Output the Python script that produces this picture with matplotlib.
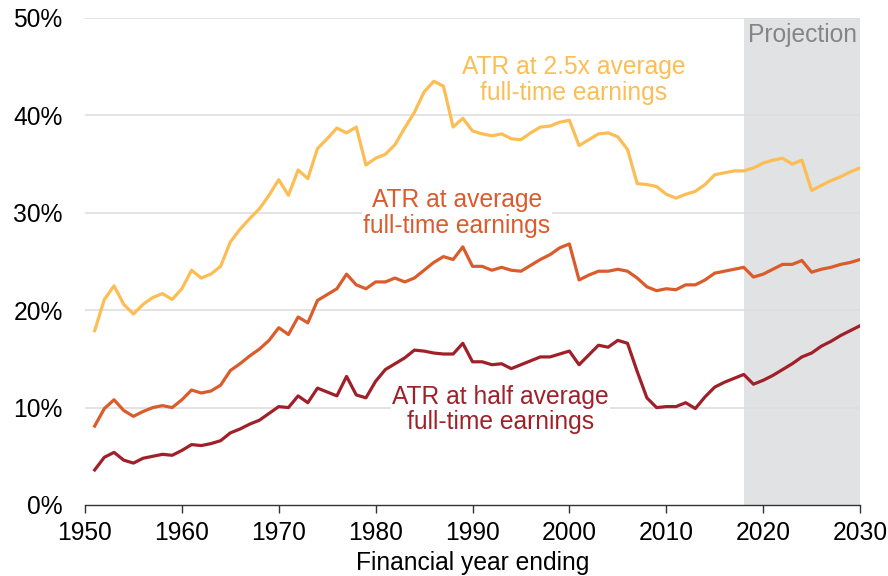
import matplotlib.pyplot as plt
import numpy as np

plt.rcParams['font.family'] = ['Liberation Sans', 'DejaVu Sans']

#%% data
years = np.arange(1951, 2031)

atr_25x = [17.9, 21.1, 22.5, 20.6, 19.6, 20.6, 21.3, 21.7, 21.1, 22.2,
           24.1, 23.3, 23.7, 24.5, 27.0, 28.3, 29.4, 30.4, 31.8, 33.4,
           31.8, 34.4, 33.5, 36.6, 37.6, 38.7, 38.2, 38.8, 34.9, 35.6,
           36.0, 37.0, 38.7, 40.3, 42.4, 43.5, 43.0, 38.8, 39.7, 38.4,
           38.1, 37.9, 38.1, 37.6, 37.5, 38.2, 38.8, 38.9, 39.3, 39.5,
           36.9, 37.5, 38.1, 38.2, 37.8, 36.5, 33.0, 32.9, 32.7, 31.9,
           31.5, 31.9, 32.2, 32.9, 33.9, 34.1, 34.3, 34.3, 34.6, 35.1,
           35.4, 35.6, 35.0, 35.4, 32.3, 32.8, 33.3, 33.7, 34.2, 34.6]

atr_avg = [8.1, 9.9, 10.8, 9.7, 9.1, 9.6, 10.0, 10.2, 10.0, 10.8,
           11.8, 11.5, 11.7, 12.3, 13.8, 14.5, 15.3, 16.0, 16.9, 18.2,
           17.5, 19.3, 18.7, 21.0, 21.6, 22.2, 23.7, 22.6, 22.2, 22.9,
           22.9, 23.3, 22.9, 23.3, 24.1, 24.9, 25.5, 25.2, 26.5, 24.5,
           24.5, 24.1, 24.4, 24.1, 24.0, 24.6, 25.2, 25.7, 26.4, 26.8,
           23.1, 23.6, 24.0, 24.0, 24.2, 24.0, 23.3, 22.4, 22.0, 22.2,
           22.1, 22.6, 22.6, 23.1, 23.8, 24.0, 24.2, 24.4, 23.4, 23.7,
           24.2, 24.7, 24.7, 25.1, 23.9, 24.2, 24.4, 24.7, 24.9, 25.2]

atr_half = [3.6, 4.9, 5.4, 4.6, 4.3, 4.8, 5.0, 5.2, 5.1, 5.6,
            6.2, 6.1, 6.3, 6.6, 7.4, 7.8, 8.3, 8.7, 9.4, 10.1,
            10.0, 11.2, 10.5, 12.0, 11.6, 11.2, 13.2, 11.3, 11.0, 12.7,
            13.9, 14.5, 15.1, 15.9, 15.8, 15.6, 15.5, 15.5, 16.6, 14.7,
            14.7, 14.4, 14.5, 14.0, 14.4, 14.8, 15.2, 15.2, 15.5, 15.8,
            14.4, 15.4, 16.4, 16.2, 16.9, 16.6, 13.7, 11.0, 10.0, 10.1,
            10.1, 10.5, 9.9, 11.1, 12.1, 12.6, 13.0, 13.4, 12.4, 12.8,
            13.3, 13.9, 14.5, 15.2, 15.6, 16.3, 16.8, 17.4, 17.9, 18.4]

c_yellow = '#FDBD55'
c_orange = '#DA5C2C'
c_red = '#A0202A'

#%% plot
fig = plt.figure(figsize=(8.88, 5.76), dpi=100)
ax = fig.add_axes([0.0957, 0.1233, 0.8728, 0.8455])

ax.axvspan(2018, 2030, color='#E1E2E4', zorder=0, lw=0)
for yv in [10, 20, 30, 40, 50]:
    ax.axhline(yv, color='#DEDEDE', lw=1.2, zorder=1)

ax.plot(years, atr_25x, color=c_yellow, lw=2.3, zorder=3)
ax.plot(years, atr_avg, color=c_orange, lw=2.3, zorder=3)
ax.plot(years, atr_half, color=c_red, lw=2.3, zorder=3)

box = dict(facecolor='white', edgecolor='none', pad=1)
ax.text(2000.4, 43.6, 'ATR at 2.5x average\nfull-time earnings', color=c_yellow,
        fontsize=17.7, ha='center', va='center', linespacing=1.1, zorder=2)
ax.text(1988.4, 30.0, 'ATR at average\nfull-time earnings', color=c_orange,
        fontsize=17.7, ha='center', va='center', linespacing=1.1, bbox=box, zorder=2)
ax.text(1992.9, 9.8, 'ATR at half average\nfull-time earnings', color=c_red,
        fontsize=17.7, ha='center', va='center', linespacing=1.1, bbox=box, zorder=2)
ax.text(2024.1, 48.3, 'Projection', color='#858585', fontsize=17.7,
        ha='center', va='center', zorder=2)

ax.set_xlim(1950, 2030)
ax.set_ylim(0, 50)
ax.set_xticks(range(1950, 2031, 10))
ax.set_yticks(range(0, 51, 10))
ax.set_yticklabels([f'{v}%' for v in range(0, 51, 10)])
ax.tick_params(axis='x', labelsize=17.7, length=5.5, width=1, color='#333333', pad=6)
ax.tick_params(axis='y', labelsize=17.7, length=0, pad=16)
for s in ['top', 'right', 'left']:
    ax.spines[s].set_visible(False)
ax.spines['bottom'].set_color('#333333')
ax.spines['bottom'].set_linewidth(1)

ax.set_xlabel('Financial year ending', fontsize=17.7, labelpad=4)

plt.savefig('out.png', dpi=100)
